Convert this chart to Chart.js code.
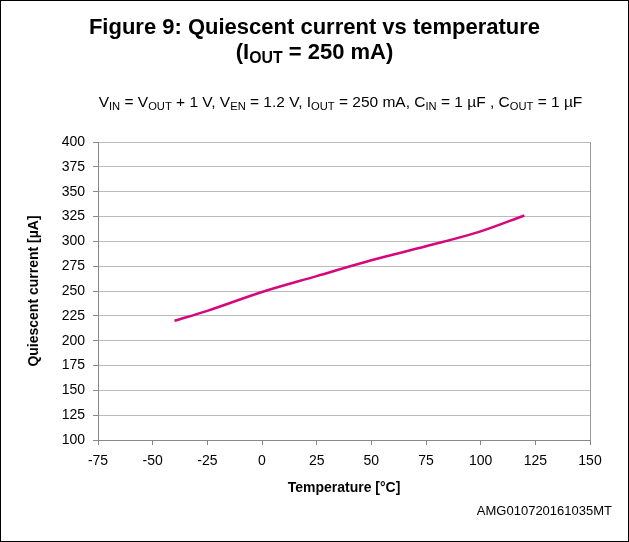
<!DOCTYPE html>
<html>
<head>
<meta charset="utf-8">
<script src="https://cdn.jsdelivr.net/npm/chart.js@4"></script>
<style>
  body { margin: 0; font-family: "Liberation Sans", Arial, sans-serif; }
  #wrap { position: relative; width: 629px; height: 542px; box-sizing: border-box; border: 1px solid #000; background: #fff; }
  #chart { position: absolute; left: 0; top: 0; }
  .t { position: absolute; left: 0; width: 627px; text-align: center; font-weight: bold; font-size: 22px; color: #000; }
  .sub { position: absolute; left: 0; width: 627px; text-align: center; font-size: 15.5px; top: 92px; color: #000; }
  sub { font-size: 0.72em; vertical-align: -0.25em; line-height: 0; }
  #code { position: absolute; right: 16px; top: 502px; font-size: 13px; }
</style>
</head>
<body>
<div id="wrap">
  <canvas id="chart" width="627" height="540"></canvas>
  <div class="t" style="top:13px">Figure 9: Quiescent current vs temperature</div>
  <div class="t" style="top:38px">(I<sub>OUT</sub> = 250 mA)</div>
  <div class="sub" style="padding-left:52px; width:575px">V<sub>IN</sub> = V<sub>OUT</sub> + 1 V, V<sub>EN</sub> = 1.2 V, I<sub>OUT</sub> = 250 mA, C<sub>IN</sub> = 1 µF , C<sub>OUT</sub> = 1 µF</div>
  <div id="code">AMG010720161035MT</div>
</div>
<script>
// values
const temps = [-40, -25, 0, 25, 50, 75, 100, 120];
const current = [220, 230, 249, 265, 281, 295, 310, 326];

const font = "'Liberation Sans', Arial, sans-serif";

// gray frame round the plot area
const frame = {
    id: 'frame',
    afterDraw(chart) {
        const a = chart.chartArea;
        const ctx = chart.ctx;
        ctx.save();
        ctx.strokeStyle = '#999';
        ctx.lineWidth = 1;
        ctx.beginPath();
        ctx.moveTo(a.right + 0.5, a.top);
        ctx.lineTo(a.right + 0.5, a.bottom);
        ctx.stroke();
        ctx.restore();
    }
};

new Chart(document.getElementById('chart'), {
    type: 'line',
    data: {
        datasets: [{
            data: temps.map((t, i) => ({ x: t, y: current[i] })),
            borderColor: '#d6077d',
            borderWidth: 2.5,
            pointRadius: 0,
            tension: 0.3,
            cubicInterpolationMode: 'monotone'
        }]
    },
    options: {
        responsive: false,
        animation: false,
        layout: { padding: { left: 25, top: 141, right: 38, bottom: 40 } },
        plugins: { legend: { display: false }, tooltip: { enabled: false } },
        scales: {
            x: {
                type: 'linear',
                min: -75, max: 150,
                ticks: { stepSize: 25, color: '#000', font: { family: font, size: 14 }, padding: 8 },
                grid: { drawOnChartArea: false, color: '#888', tickLength: 5 },
                border: { color: '#888' },
                title: { display: true, text: 'Temperature [°C]', color: '#000', font: { family: font, size: 14, weight: 'bold' }, padding: { top: 4 } },
                afterFit(s) { s.height = 61; }
            },
            y: {
                min: 100, max: 400,
                ticks: { stepSize: 25, color: '#000', font: { family: font, size: 14 }, padding: 8 },
                grid: { color: '#bbb', tickLength: 5, tickColor: '#888' },
                border: { color: '#888' },
                title: { display: true, text: 'Quiescent current [µA]', color: '#000', font: { family: font, size: 14, weight: 'bold' }, padding: 0 },
                afterFit(s) { s.width = 72; }
            }
        }
    },
    plugins: [frame]
});
</script>
</body>
</html>
